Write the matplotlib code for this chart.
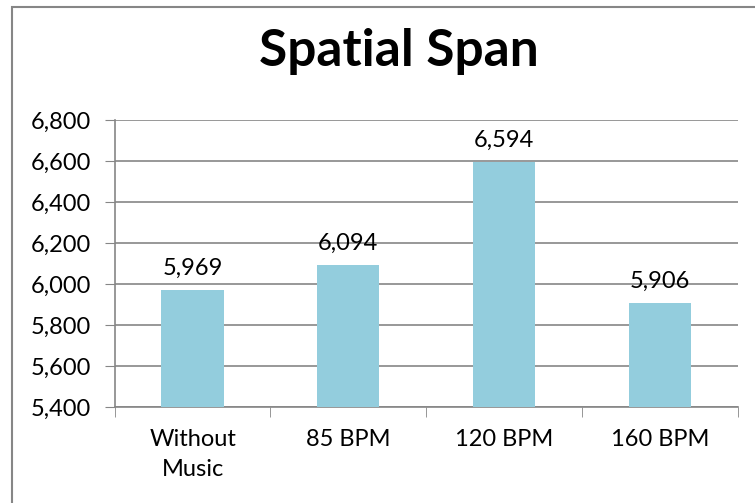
import matplotlib
matplotlib.use("Agg")
from matplotlib import pyplot as plt
from matplotlib.patches import Rectangle
import numpy as np

# Dados do gráfico
categorias = ["Without\nMusic", "85 BPM", "120 BPM", "160 BPM"]
valores = [5969, 6094, 6594, 5906]
ticks_y = [5400, 5600, 5800, 6000, 6200, 6400, 6600, 6800]

plt.rcParams['font.family'] = ['Lato', 'DejaVu Sans']

fig = plt.figure(figsize=(7.55, 5.03), dpi=100)
ax = fig.add_axes([0.152, 0.191, 0.825, 0.570])

cinza = '#868686'
x = np.arange(len(categorias))
ax.bar(x, valores, width=0.4, color='#93CDDD', zorder=3)

for xi, v in zip(x, valores):
    ax.annotate(f"{v:,}", (xi, v), xytext=(0, 8), textcoords='offset points',
                ha='center', va='bottom', fontsize=17)

ax.set_xlim(-0.5, len(categorias) - 0.5)
ax.set_ylim(ticks_y[0], ticks_y[-1])
ax.set_yticks(ticks_y)
ax.set_yticklabels([f"{t:,}" for t in ticks_y], fontsize=17)
ax.set_xticks(x)
ax.set_xticklabels(categorias, fontsize=17, linespacing=1.55)
ax.set_xticks(np.arange(len(categorias) + 1) - 0.5, minor=True)

ax.yaxis.grid(True, color=cinza, linewidth=1.2, zorder=0)
ax.tick_params(axis='x', which='major', length=0, pad=16)
ax.tick_params(axis='x', which='minor', length=7, color=cinza, direction='out')
ax.tick_params(axis='y', length=7, color=cinza, direction='out', pad=10)
for lado in ['top', 'right']:
    ax.spines[lado].set_visible(False)
for lado in ['left', 'bottom']:
    ax.spines[lado].set_color(cinza)
    ax.spines[lado].set_linewidth(1.2)

fig.text(0.528, 0.898, "Spatial Span", ha='center', va='center',
         fontsize=37, fontweight='bold')

# Borda do gráfico
fig.patches.append(Rectangle((12 / 755, -0.1), 1.2, 1.1 - 7 / 503,
                             transform=fig.transFigure, fill=False,
                             edgecolor=cinza, linewidth=1.5))

fig.savefig("out.png", dpi=100)
